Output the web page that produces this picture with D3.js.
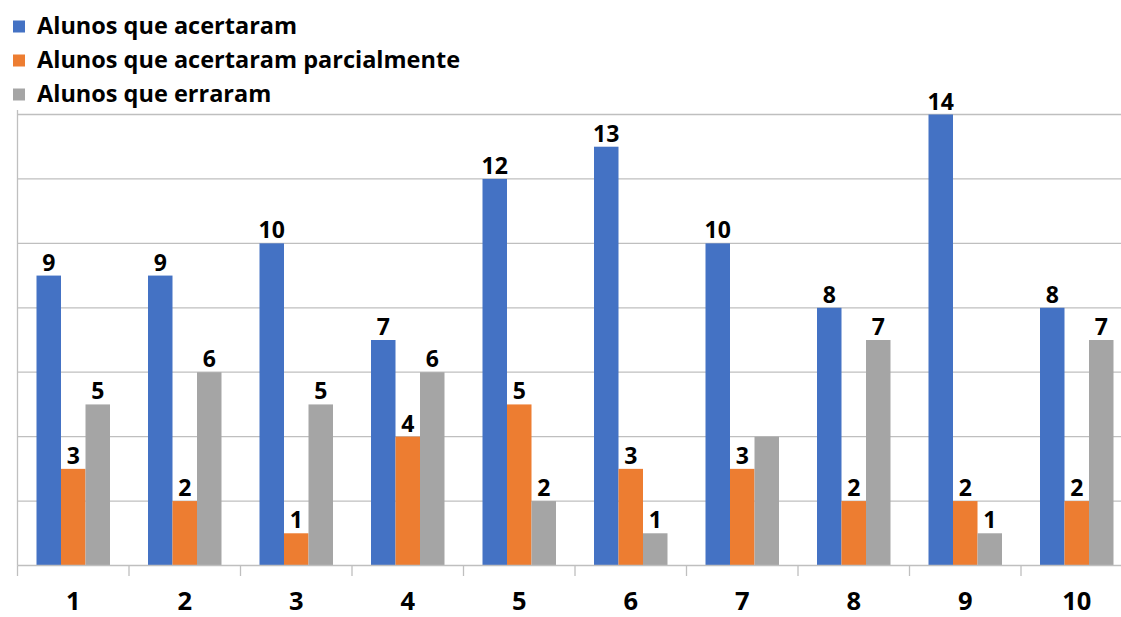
<!DOCTYPE html>
<html><head><meta charset="utf-8">
<script src="https://cdn.jsdelivr.net/npm/d3@7"></script>
<style>html,body{margin:0;padding:0;background:#fff;overflow:hidden}</style>
</head><body><svg id="c" width="1121" height="617"></svg>
<script>
const categories = ["1","2","3","4","5","6","7","8","9","10"];
const seriesNames = ["Alunos que acertaram","Alunos que acertaram parcialmente","Alunos que erraram"];
const acertaram = [9,9,10,7,12,13,10,8,14,8];
const parcialmente = [3,2,1,4,5,3,3,2,2,2];
const erraram = [5,6,5,6,2,1,4,7,1,7];
// data labels shown (null = no label drawn in the original)
const labelsAcertaram = [9,9,10,7,12,13,10,8,14,8];
const labelsParcialmente = [3,2,1,4,5,3,3,2,2,2];
const labelsErraram = [5,6,5,6,2,1,null,7,1,7];
const yTicks = [0,2,4,6,8,10,12,14];
const colors = ["#4472C4","#ED7D31","#A5A5A5"];

const series = [acertaram, parcialmente, erraram];
const labels = [labelsAcertaram, labelsParcialmente, labelsErraram];

const svg = d3.select("#c");
const FONT = "'Open Sans', 'DejaVu Sans', sans-serif";

const x0 = d3.scaleBand().domain(categories).range([17.5, 1132.5]).paddingInner(0).paddingOuter(0);
const groupW = 73.5;
const x1 = d3.scaleBand().domain([0,1,2]).range([0, groupW]);
const y = d3.scaleLinear().domain([0,14]).range([565.5, 114.5]);

// gridlines
svg.append("g").selectAll("line").data(yTicks.filter(t=>t>0)).join("line")
  .attr("x1",17.5).attr("x2",1121).attr("y1",d=>y(d)).attr("y2",d=>y(d))
  .attr("stroke","#BFBFBF").attr("stroke-width",1.3);

// left vertical line
svg.append("line").attr("x1",17.5).attr("x2",17.5).attr("y1",110).attr("y2",565.5)
  .attr("stroke","#BFBFBF").attr("stroke-width",1.3);

// bars
const groups = svg.append("g").selectAll("g").data(categories).join("g")
  .attr("transform",(d)=>`translate(${x0(d) + (x0.bandwidth()-groupW)/2},0)`);

groups.each(function(cat, i){
  const g = d3.select(this);
  series.forEach((s, k)=>{
    g.append("rect").attr("x",x1(k)).attr("width",x1.bandwidth())
      .attr("y",y(s[i])).attr("height",y(0)-y(s[i])).attr("fill",colors[k]);
  });
  series.forEach((s, k)=>{
    const lv = labels[k][i];
    if(lv===null) return;
    const cx = x1(k)+x1.bandwidth()/2;
    g.append("text").attr("x",cx).attr("y",y(s[i])-5)
      .attr("text-anchor","middle").attr("font-family",FONT).attr("font-weight",700)
      .attr("font-size",23).attr("fill","#000").text(lv);
  });
});

// x axis
const xAxis = svg.append("g").attr("transform",`translate(0,${y(0)})`);
xAxis.append("line").attr("x1",17.5).attr("x2",1121).attr("y1",0).attr("y2",0)
  .attr("stroke","#BFBFBF").attr("stroke-width",1.3);
const tickPos = categories.map(c=>x0(c));
xAxis.selectAll("line.tick").data(tickPos).join("line").attr("class","tick")
  .attr("x1",d=>d).attr("x2",d=>d).attr("y1",0).attr("y2",10.5)
  .attr("stroke","#BFBFBF").attr("stroke-width",1.3);
xAxis.selectAll("text").data(categories).join("text")
  .attr("x",d=>x0(d)+x0.bandwidth()/2).attr("y",44)
  .attr("text-anchor","middle").attr("font-family",FONT).attr("font-weight",700)
  .attr("font-size",25.5).attr("fill","#000").text(d=>d);

// legend
const legY = [26.5, 60.5, 94.5];
const leg = svg.append("g").selectAll("g").data(seriesNames).join("g");
leg.append("rect").attr("x",13).attr("y",(d,i)=>legY[i]-6).attr("width",12).attr("height",12)
  .attr("fill",(d,i)=>colors[i]);
leg.append("text").attr("x",37).attr("y",(d,i)=>legY[i]+7.5)
  .attr("font-family",FONT).attr("font-weight",700).attr("font-size",23.5).attr("fill","#000")
  .text(d=>d);
</script></body></html>
